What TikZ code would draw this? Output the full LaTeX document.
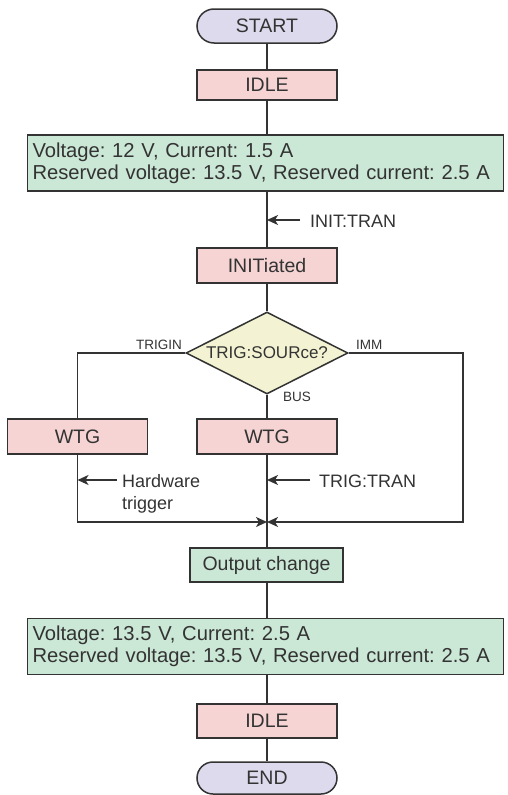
\documentclass[tikz,border=0pt]{standalone}
\usepackage{fontspec}
\setmainfont{Liberation Sans}
\usetikzlibrary{shapes.geometric,arrows.meta}
\definecolor{lineC}{HTML}{333333}
\definecolor{txtC}{HTML}{333333}
\definecolor{termC}{HTML}{DCDAEC}
\definecolor{stateC}{HTML}{F5D4D3}
\definecolor{infoC}{HTML}{CBE7D6}
\definecolor{decC}{HTML}{F3F3D3}
\begin{document}
\begin{tikzpicture}[x=1pt,y=-1pt,
  every node/.style={text=txtC, font=\fontsize{19.5}{22}\selectfont\frenchspacing, inner sep=0pt},
  term/.style={draw=lineC, line width=1.5pt, fill=termC, rounded corners=17pt, minimum width=140pt, minimum height=34pt},
  state/.style={draw=lineC, line width=1.5pt, fill=stateC, minimum width=140pt, minimum height=34pt},
  info/.style={draw=lineC, line width=1.5pt, fill=infoC, text width=466pt, inner xsep=5pt, minimum height=56pt, align=left, font=\fontsize{20.2}{22}\selectfont\frenchspacing},
  outbox/.style={draw=lineC, line width=1.5pt, fill=infoC, minimum width=153pt, minimum height=34pt},
  dec/.style={diamond, draw=lineC, line width=1.5pt, fill=decC, minimum width=162pt, minimum height=82pt},
  conn/.style={draw=lineC, line width=1.5pt},
  tip/.style={-{Stealth[length=11pt,width=10pt,inset=3pt]}},
  note/.style={font=\fontsize{18}{22}\selectfont\frenchspacing},
  small/.style={font=\fontsize{13.5}{16}\selectfont}
]
\useasboundingbox (0,0) rectangle (507,795);

\node[term] (start) at (267,26) {START};
\node[state, minimum height=30pt] (idle1) at (267,85) {IDLE};
\node[info] (v1) at (265.5,163) {Voltage: 12 V, Current: 1.5 A\\Reserved voltage: 13.5 V, Reserved current: 2.5 A};
\node[state, minimum height=35pt] (init) at (267,265.5) {INITiated};
\node[dec] (src) at (267,353) {};
\node[font=\fontsize{17}{20}\selectfont] (srct) at (src) {TRIG:SOURce?};
\node[state, minimum height=35pt] (wtgL) at (77.5,436.5) {WTG};
\node[state, minimum height=35pt] (wtgC) at (267,436.5) {WTG};
\coordinate (merge) at (267,522);
\coordinate (rc) at (463,522);
\node[outbox] (out) at (266.5,565) {Output change};
\node[info] (v2) at (265.5,646.5) {Voltage: 13.5 V, Current: 2.5 A\\Reserved voltage: 13.5 V, Reserved current: 2.5 A};
\node[state] (idle2) at (267,721) {IDLE};
\node[term, minimum height=32pt, rounded corners=16pt] (end) at (267,778) {END};

% main column
\draw[conn] (start.south) -- (idle1.north);
\draw[conn] (idle1.south) -- (idle1.south |- v1.north);
\draw[conn] (init.north |- v1.south) -- (init.north);
\draw[conn] (init.south) -- (src.north);
\draw[conn] (src.south) -- (wtgC.north);
\draw[conn] (wtgC.south) -- (wtgC.south |- out.north);
\draw[conn] (wtgC.south |- out.south) -- (wtgC.south |- v2.north);
\draw[conn] (idle2.north |- v2.south) -- (idle2.north);
\draw[conn] (idle2.south) -- (end.north);

% branches
\draw[conn] (src.west) -| (wtgL.north);
\draw[conn, tip] (wtgL.south) |- (merge);
\draw[conn, tip] (src.east) -| (rc) -- (merge);

\node[small, anchor=base east] (lt) at (182,349) {TRIGIN};
\node[small, anchor=base west] (li) at (356,349) {IMM};
\node[small, anchor=base west] (lb) at (283,401) {BUS};

% annotations
\coordinate (a1) at (300,220);
\draw[conn, tip] (a1) -- (a1 -| init.north);
\node[note, anchor=base west] (n1) at (310,227) {INIT:TRAN};
\coordinate (a2) at (117,480);
\draw[conn, tip] (a2) -- (a2 -| wtgL.south);
\node[note, anchor=base west] (n2) at (122,487) {Hardware};
\node[note, anchor=base west] (n2b) at (122,509) {trigger};
\coordinate (a3) at (310,480);
\draw[conn, tip] (a3) -- (a3 -| wtgC.south);
\node[note, anchor=base west] (n3) at (319,487) {TRIG:TRAN};
\end{tikzpicture}
\end{document}
